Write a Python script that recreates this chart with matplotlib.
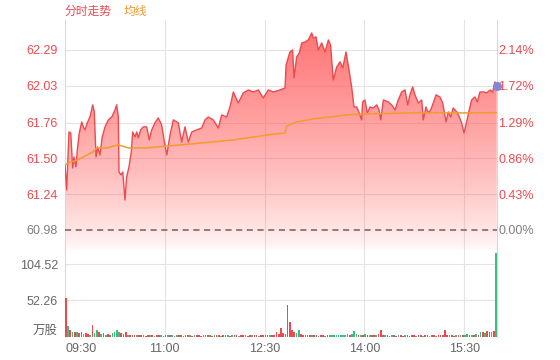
import numpy as np
import matplotlib
matplotlib.use("Agg")
import matplotlib.pyplot as plt
from matplotlib.patches import PathPatch

plt.rcParams['font.family'] = ['Liberation Sans', 'Noto Sans CJK SC', 'DejaVu Sans']

# ---------------- data ----------------
prev_close = 60.98
price_minutes = [0, 1.5, 3.6, 5.2, 6.9, 8.1, 9.9, 11.1, 12.9, 15.1, 16.5, 18.1, 20.1, 22.5, 25, 26.4,
                 28, 29.5, 31.5, 33.6, 36.1, 39.1, 42.2, 45.1, 46.6, 48.1, 48.7, 50.5, 52.1, 54.1,
                 55.6, 57.7, 59.8, 61, 63.1, 64.7, 66.1, 68.2, 70.6, 73.7, 76, 78.2, 81.1, 84.1,
                 87.2, 89.3, 91.8, 94.7, 97.7, 102.2, 105.2, 108.2, 111.2, 114.3, 118.7, 123.3,
                 126.3, 129.2, 133.7, 138.3, 141.3, 145.8, 148.8, 151.8, 156.2, 160.8, 165.3,
                 169.8, 174.3, 178.8, 183.3, 187.9, 193.9, 198.4, 199.4, 202.8, 205.3, 206.5,
                 208.9, 211.3, 213.5, 216.4, 219.4, 222.5, 223.9, 226.4, 228.4, 231.5, 234.5,
                 237.5, 239.5, 241.9, 245, 248, 250.5, 253.4, 255.4, 258.5, 260.6, 263.1, 265.3,
                 267.5, 268.4, 270.5, 272.6, 275.1, 278, 281.1, 283.2, 284.7, 287.1, 291.5,
                 294.6, 297.6, 300.5, 303.6, 306.6, 309, 311.1, 313.5, 315.6, 318.6, 321.7,
                 323.1, 325.5, 327.6, 329.8, 332.1, 334.6, 338.1, 340.6, 343.6, 345.7, 347.8,
                 350.1, 353.2, 355.6, 357.7, 359.8, 362.2, 364.5, 366.7, 369.7, 371.8, 374.2,
                 377.8, 380.3, 383.3, 385.7, 387.7, 389.3]
price_values = [61.453, 61.271, 61.693, 61.686, 61.431, 61.511, 61.439, 61.562, 61.686, 61.766,
                61.730, 61.708, 61.759, 61.802, 61.890, 61.839, 61.511, 61.584, 61.526, 61.657,
                61.730, 61.781, 61.802, 61.853, 61.890, 61.802, 61.402, 61.380, 61.402, 61.198,
                61.366, 61.439, 61.548, 61.693, 61.657, 61.693, 61.650, 61.708, 61.730, 61.730,
                61.635, 61.708, 61.759, 61.795, 61.744, 61.635, 61.526, 61.671, 61.781, 61.759,
                61.620, 61.730, 61.620, 61.693, 61.708, 61.722, 61.781, 61.802, 61.781, 61.722,
                61.817, 61.802, 61.875, 61.984, 61.904, 61.977, 61.999, 61.984, 61.999, 61.941,
                61.999, 61.984, 61.999, 62.013, 62.181, 62.275, 62.290, 62.086, 62.239, 62.268,
                62.341, 62.348, 62.363, 62.414, 62.377, 62.385, 62.290, 62.341, 62.275, 62.363,
                62.326, 62.072, 62.166, 62.203, 62.159, 62.275, 62.181, 62.021, 61.875, 61.875,
                61.832, 61.781, 61.912, 61.926, 61.832, 61.875, 61.868, 61.890, 61.853, 61.781,
                61.926, 61.912, 61.890, 61.853, 61.926, 61.984, 61.999, 61.890, 61.963, 62.021,
                61.963, 61.904, 61.926, 61.781, 61.875, 61.832, 61.853, 61.904, 61.963, 61.948,
                61.904, 61.766, 61.839, 61.802, 61.868, 61.839, 61.802, 61.759, 61.686, 61.766,
                61.853, 61.926, 61.948, 61.912, 61.984, 61.984, 61.977, 61.999, 61.984, 62.057,
                62.030]

avg_minutes = [0, 5, 11.4, 25.3, 28.6, 37.6, 48.1, 57.1, 73.7, 92.8, 113.6, 151.5, 182.1,
               198.4, 199.9, 208.9, 223.5, 239, 253.9, 268.7, 313.8, 374.2, 389.3]
avg_values = [61.453, 61.475, 61.489, 61.548, 61.577, 61.577, 61.599, 61.577, 61.577, 61.591,
              61.606, 61.635, 61.671, 61.686, 61.734, 61.766, 61.788, 61.802, 61.817, 61.824,
              61.832, 61.832, 61.834]

vol_minutes = list(range(0, 390, 2)) + [387.8]
vol_values = [55, 15, 9, 7, 6, 7, 5, 6, 4, 5, 4, 3, 17, 5, 9, 6, 4, 5, 3, 4, 3, 5, 7, 9, 6, 5, 4, 6, 3, 3,
              2, 3, 2, 2, 3, 2, 1, 2, 3, 2, 1, 2, 3, 2, 1, 2, 3, 2, 2, 1, 2, 3, 2, 1, 2, 3, 2, 1, 2, 3,
              2, 1, 2, 3, 2, 2, 1, 2, 3, 2, 1, 2, 3, 2, 1, 2, 3, 2, 1, 2, 2, 3, 1, 2, 2, 3, 2, 1, 2, 2,
              2, 3, 2, 2, 3, 6, 4, 12, 5,
              4, 45, 21, 10, 7, 5, 9, 4, 3, 2, 3, 2, 2, 3, 2, 1, 2, 2, 1, 2, 2, 2, 3, 2, 3, 2, 3, 2,
              4, 3, 4, 8, 4, 3, 3, 2, 4, 2, 3, 2, 2, 3, 4, 10, 3, 2, 2, 1, 2, 2, 1, 2, 2, 1, 2, 2, 1,
              2, 2, 1, 2, 2, 1, 2, 2, 1, 2, 2, 1, 2, 2, 3, 10, 3, 2, 2, 1, 2, 2, 3, 2, 3, 4, 3, 2, 3,
              4, 3, 6, 7, 5, 8, 6, 7, 8, 9, 121]
vol_colors = ("rgrgrgrrgrrgrggrgrgrrggggrrrgr"
              "rrgrrgrrgrgrrgrrgrgggrrgrrgrgr"
              "rrgrrgrgrrgrrgrgrrgrrgrrgrrgrr"
              "rrgrrrrrr"
              "rrrrrggrrgrrgrrgrrgrgggggggg"
              "grgggrgrgrgrrgrrrgrrgrrgrrgrr"
              "rrgrrgrrgrrgrrrrrgrrgrgrggrgr"
              "grgrgrrgrrg")

price_ticks = [60.98, 61.24, 61.50, 61.76, 62.03, 62.29]
price_labels = ['60.98', '61.24', '61.50', '61.76', '62.03', '62.29']
pct_labels = ['0.00%', '0.43%', '0.86%', '1.29%', '1.72%', '2.14%']
vol_ticks = [0, 52.26, 104.52]
vol_labels = ['万股', '52.26', '104.52']
time_ticks = [0, 90, 180, 270, 360]
time_labels = ['09:30', '11:00', '12:30', '14:00', '15:30']

# ---------------- style ----------------
RED = '#ec4a4f'
ORANGE = '#f59a2c'
GREEN = '#3dbd7d'
GRID = '#e4e4e4'
SPINE = '#d8d8d8'
GRAY = '#7f7f7f'

fig = plt.figure(figsize=(5.6, 3.6), dpi=100)
W, H = 560, 360
x0, x1 = 65, 496.7
ax = fig.add_axes([x0 / W, 1 - 250 / H, (x1 - x0) / W, 230 / H])
axv = fig.add_axes([x0 / W, 1 - 336.6 / H, (x1 - x0) / W, 86.6 / H])

xmax = 389.3
ylo, yhi = 60.834, 62.508
ax.set_xlim(0, xmax)
ax.set_ylim(ylo, yhi)
axv.set_xlim(0, xmax)
axv.set_ylim(0, 124.7)

t = np.array(price_minutes)
p = np.array(price_values)

# grid
for v in price_ticks[1:]:
    ax.axhline(v, color=GRID, lw=0.8, zorder=0)
for v in vol_ticks[1:]:
    axv.axhline(v, color=GRID, lw=0.8, zorder=0)
for m in time_ticks[1:]:
    ax.axvline(m, color=GRID, lw=0.8, zorder=0)
    axv.axvline(m, color=GRID, lw=0.8, zorder=0)

# gradient fill
poly = ax.fill_between(t, p, ylo, color='none', lw=0)
n = 256
f = np.linspace(0, 1, n)
alpha = 0.82 * (1 - f) ** 0.75 + 0.02
rgba = np.zeros((n, 1, 4))
rgba[:, 0, 0] = 1.0
rgba[:, 0, 1] = 0.36
rgba[:, 0, 2] = 0.36
rgba[:, 0, 3] = alpha
img = ax.imshow(rgba, extent=[0, xmax, ylo, p.max()], aspect='auto', origin='upper', zorder=1,
                interpolation='bilinear')
clip = PathPatch(poly.get_paths()[0], transform=ax.transData, facecolor='none', edgecolor='none')
ax.add_patch(clip)
img.set_clip_path(clip)
ax.set_xlim(0, xmax)
ax.set_ylim(ylo, yhi)

ax.plot(t, p, color=RED, lw=1.0, zorder=3)
ax.plot(avg_minutes, avg_values, color=ORANGE, lw=1.1, zorder=3)
ax.axhline(prev_close, color='#7d5a5a', lw=1.1, ls=(0, (4, 3)), zorder=2)
ax.scatter([t[-1]], [p[-1]], s=30, color='#8189d6', zorder=5, clip_on=False)

# volume bars
cols = [RED if c == 'r' else GREEN for c in vol_colors]
axv.bar(vol_minutes, vol_values, width=1.5, align='edge', color=cols, linewidth=0, zorder=3)

# axes styling
for a in (ax, axv):
    for s in ('top', 'bottom'):
        a.spines[s].set_visible(False)
    for s in ('left', 'right'):
        a.spines[s].set_color(SPINE)
        a.spines[s].set_linewidth(0.8)
        a.spines[s].set_zorder(1)
    a.set_xticks(time_ticks)

ax.set_xticklabels([])
ax.tick_params(axis='x', length=0)
ax.set_yticks(price_ticks)
ax.set_yticklabels(price_labels)
ax.tick_params(axis='y', length=0, pad=5, labelsize=9)
for lbl, v in zip(ax.get_yticklabels(), price_ticks):
    lbl.set_color(GRAY if v == prev_close else RED)

axr = ax.twinx()
axr.set_ylim(ylo, yhi)
axr.set_yticks(price_ticks)
axr.set_yticklabels(pct_labels)
axr.tick_params(axis='y', length=0, pad=1, labelsize=9)
for s in axr.spines.values():
    s.set_visible(False)
for lbl, v in zip(axr.get_yticklabels(), price_ticks):
    lbl.set_color(GRAY if v == prev_close else RED)

axv.set_yticks(vol_ticks)
axv.set_yticklabels(vol_labels)
axv.tick_params(axis='y', length=0, pad=5, labelsize=9, labelcolor='#666666')
axv.get_yticklabels()[0].set_verticalalignment('bottom')
axv.set_xticklabels(time_labels)
axv.tick_params(axis='x', length=0, pad=4.5, labelsize=9, labelcolor='#666666')
axv.get_xticklabels()[0].set_horizontalalignment('left')

fig.text(64 / W, 1 - 12 / H, '分时走势', color=RED, fontsize=8.5, va='center', ha='left')
fig.text(124 / W, 1 - 12 / H, '均线', color=ORANGE, fontsize=8.5, va='center', ha='left')

fig.savefig('out.png', dpi=100)
